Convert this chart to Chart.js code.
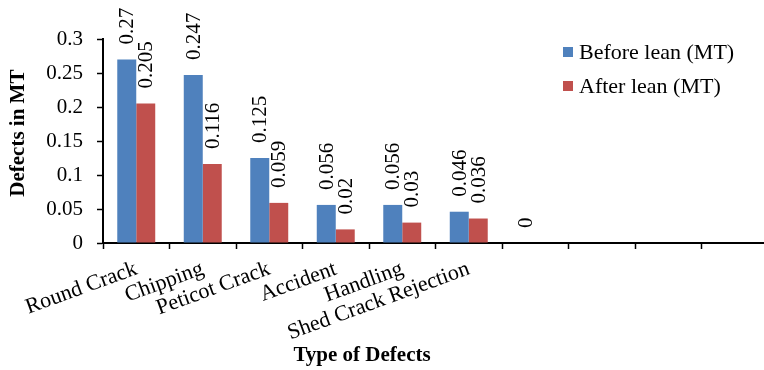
<!DOCTYPE html>
<html>
<head>
<meta charset="utf-8">
<script src="https://cdn.jsdelivr.net/npm/chart.js@4.4.1/dist/chart.umd.min.js"></script>
<style>
  html, body { margin: 0; padding: 0; background: #fff; overflow: hidden; }
  #wrap { position: relative; width: 770px; height: 370px; }
</style>
</head>
<body>
<div id="wrap"><canvas id="c" width="770" height="370"></canvas></div>
<script>
// ---- data ----
const categories = ['Round Crack', 'Chipping', 'Peticot Crack', 'Accident', 'Handling', 'Shed Crack Rejection', '', '', '', ''];
const beforeLean = [0.27, 0.247, 0.125, 0.056, 0.056, 0.046, 0, null, null, null];
const afterLean  = [0.205, 0.116, 0.059, 0.02, 0.03, 0.036, null, null, null, null];
const seriesNames = ['Before lean (MT)', 'After lean (MT)'];
const yTickLabels = ['0', '0.05', '0.1', '0.15', '0.2', '0.25', '0.3'];
const xTitle = 'Type of Defects';
const yTitle = 'Defects in MT';

const SERIF = '"Liberation Serif", "Times New Roman", serif';
const BLUE = '#4F81BD';
const RED = '#C0504D';

// data labels (rotated, above bars)
const barLabels = {
  id: 'barLabels',
  afterDatasetsDraw(chart) {
    const ctx = chart.ctx;
    ctx.save();
    ctx.fillStyle = '#000';
    ctx.font = '21px ' + SERIF;
    chart.data.datasets.forEach((ds, i) => {
      const meta = chart.getDatasetMeta(i);
      meta.data.forEach((bar, j) => {
        const v = ds.data[j];
        if (v === null || v === undefined) return;
        ctx.save();
        ctx.translate(bar.x + 1, bar.y - 15);
        ctx.rotate(-Math.PI / 2);
        ctx.textAlign = 'left';
        ctx.textBaseline = 'middle';
        ctx.fillText(String(v), 0, 0);
        ctx.restore();
      });
    });
    ctx.restore();
  }
};

// legend drawn inside the plot area (top right)
const innerLegend = {
  id: 'innerLegend',
  afterDraw(chart) {
    const ctx = chart.ctx;
    const a = chart.chartArea;
    ctx.save();
    ctx.font = '22px ' + SERIF;
    ctx.textBaseline = 'middle';
    ctx.textAlign = 'left';
    chart.data.datasets.forEach((ds, i) => {
      const y = a.top + 13 + i * 34;
      const x = a.left + 460;
      ctx.fillStyle = ds.backgroundColor;
      ctx.fillRect(x, y - 5, 10, 10);
      ctx.fillStyle = '#000';
      ctx.fillText(ds.label, x + 16, y + 1);
    });
    ctx.restore();
  }
};

new Chart(document.getElementById('c'), {
  type: 'bar',
  data: {
    labels: categories,
    datasets: [
      { label: seriesNames[0], data: beforeLean, backgroundColor: BLUE, borderWidth: 0 },
      { label: seriesNames[1], data: afterLean, backgroundColor: RED, borderWidth: 0 }
    ]
  },
  options: {
    responsive: false,
    animation: false,
    devicePixelRatio: 1,
    layout: { padding: { top: 39, right: 2, left: 0, bottom: 0 } },
    datasets: { bar: { categoryPercentage: 0.571, barPercentage: 1.0 } },
    plugins: { legend: { display: false }, tooltip: { enabled: false } },
    scales: {
      x: {
        offset: true,
        grid: { offset: true, drawOnChartArea: false, drawTicks: true, tickLength: 6, tickColor: '#000', tickWidth: 1.5 },
        border: { display: true, color: '#000', width: 2 },
        ticks: {
          autoSkip: false, minRotation: 20, maxRotation: 20, padding: 7,
          color: '#000', font: { family: SERIF, size: 22 }
        },
        title: {
          display: true,
          text: xTitle + '\u00A0'.repeat(28),
          color: '#000',
          font: { family: SERIF, size: 21, weight: 'bold' },
          padding: { top: 0, bottom: 2 }
        },
        afterFit(scale) { scale.height = 127; }
      },
      y: {
        min: 0, max: 0.3,
        grid: { drawOnChartArea: false, drawTicks: true, tickLength: 6, tickColor: '#000', tickWidth: 1.5 },
        border: { display: true, color: '#000', width: 2 },
        ticks: {
          stepSize: 0.05, padding: 14, color: '#000',
          font: { family: SERIF, size: 21 },
          callback: (v, i) => yTickLabels[i]
        },
        title: {
          display: true,
          text: '\u00A0'.repeat(3) + yTitle,
          color: '#000',
          font: { family: SERIF, size: 21, weight: 'bold' },
          padding: { top: 6, bottom: 0 }
        },
        afterFit(scale) { scale.width = 103; }
      }
    }
  },
  plugins: [barLabels, innerLegend]
});
</script>
</body>
</html>
